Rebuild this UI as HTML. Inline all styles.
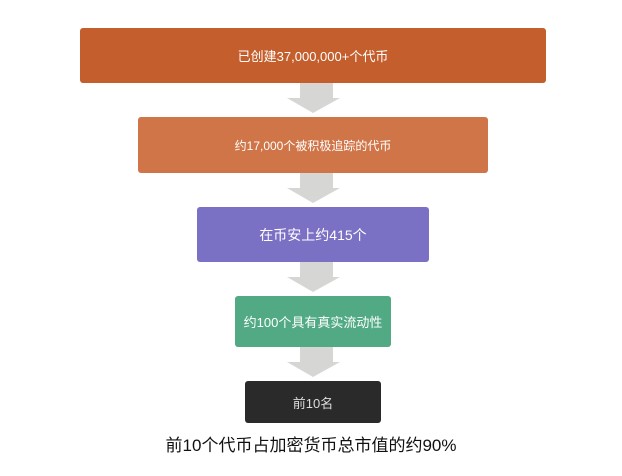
<!DOCTYPE html>
<html><head><meta charset="utf-8"><style>
body{margin:0;width:622px;height:476px;background:#fff;position:relative;overflow:hidden;font-family:"Liberation Sans","Noto Sans CJK SC",sans-serif}
.b{position:absolute;color:#fff;display:flex;align-items:center;justify-content:center;border-radius:3px}
.c{position:absolute;left:0;top:0}
</style></head><body>
<svg class="c" width="622" height="476">
<g fill="#d6d6d4">
<polygon points="300,83 333,83 333,98 340,98 313,113 287,98 300,98"/>
<polygon points="300,173 333,173 333,188 340,188 313,203 287,188 300,188"/>
<polygon points="300,262 333,262 333,277 340,277 313,292 287,277 300,277"/>
<polygon points="300,347 333,347 333,362 340,362 313,377 287,362 300,362"/>
</g></svg>
<div class="b" style="left:80px;top:28px;width:466px;height:55px;background:#c45e2c;font-size:13px">已创建37,000,000+个代币</div>
<div class="b" style="left:138px;top:117px;width:350px;height:56px;background:#d07548;font-size:12px">约17,000个被积极追踪的代币</div>
<div class="b" style="left:197px;top:207px;width:232px;height:55px;background:#7a70c4;font-size:14px">在币安上约415个</div>
<div class="b" style="left:235px;top:296px;width:156px;height:51px;background:#52aa85;font-size:13px">约100个具有真实流动性</div>
<div class="b" style="left:245px;top:381px;width:136px;height:42px;background:#2a2a2a;color:#ddd;font-size:13px">前10名</div>
<div style="position:absolute;left:160px;top:431px;width:302px;text-align:center;font-size:17px;color:#111">前10个代币占加密货币总市值的约90%</div>
</body></html>
